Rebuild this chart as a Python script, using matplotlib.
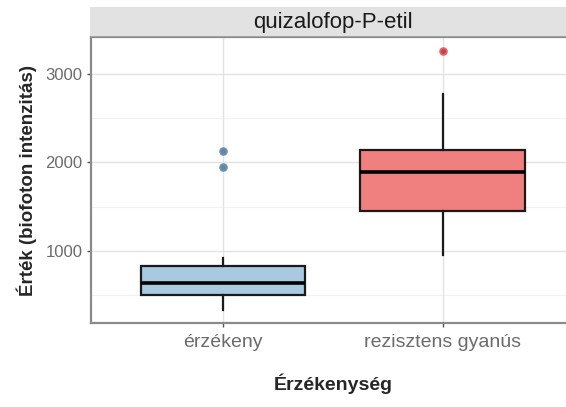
import matplotlib.pyplot as plt
from matplotlib.patches import Rectangle

plt.rcParams["font.family"] = ["Liberation Sans", "DejaVu Sans"]

# adatok
categories = ["érzékeny", "rezisztens gyanús"]
q1 = [500, 1445]
medians = [640, 1890]
q3 = [830, 2140]
whisker_low = [330, 955]
whisker_high = [920, 2775]
outliers = [[1945, 2130], [3265]]
fill_colors = ["#a9c9e0", "#f08080"]
outlier_edge = ["#6f93b0", "#d96a6e"]
outlier_face = ["#5f88a8", "#d2404c"]

y_ticks = [1000, 2000, 3000]
y_minor = [500, 1500, 2500]

W, H = 566, 407
fig = plt.figure(figsize=(W / 100, H / 100), dpi=100)

# panel
ax = fig.add_axes([91 / W, (H - 323) / H, (575 - 91) / W, (323 - 37) / H])
ax.set_xlim(0.4, 2.6)
ax.set_ylim(182, 3420)

for y in y_minor:
    ax.axhline(y, color="#f2f2f2", lw=0.8, zorder=0)
for y in y_ticks:
    ax.axhline(y, color="#e3e3e3", lw=1.0, zorder=0)
for i in range(len(categories)):
    ax.axvline(i + 1, color="#e3e3e3", lw=1.0, zorder=0)

stats = []
for i, cat in enumerate(categories):
    stats.append({
        "label": cat,
        "q1": q1[i],
        "med": medians[i],
        "q3": q3[i],
        "whislo": whisker_low[i],
        "whishi": whisker_high[i],
        "fliers": outliers[i],
    })

bp = ax.bxp(
    stats,
    positions=[1, 2],
    widths=0.75,
    patch_artist=True,
    showcaps=False,
    boxprops=dict(edgecolor="#1a1a1a", linewidth=1.6),
    medianprops=dict(color="black", linewidth=2.6),
    whiskerprops=dict(color="#1a1a1a", linewidth=1.6),
    zorder=2,
)
for i, box in enumerate(bp["boxes"]):
    box.set_facecolor(fill_colors[i])
for i, fl in enumerate(bp["fliers"]):
    fl.set_marker("o")
    fl.set_markersize(5)
    fl.set_markerfacecolor(outlier_face[i])
    fl.set_markeredgecolor(outlier_edge[i])
    fl.set_markeredgewidth(1.2)

ax.set_xticks([1, 2])
ax.set_xticklabels(categories, fontsize=14, color="#6b6b6b")
ax.set_yticks(y_ticks)
ax.set_yticklabels([str(v) for v in y_ticks], fontsize=12, color="#6b6b6b")
ax.tick_params(axis="both", length=3, width=1, color="#555555")
ax.tick_params(axis="x", pad=5)
ax.tick_params(axis="y", pad=3)
for side in ["left", "bottom", "top", "right"]:
    ax.spines[side].set_color("#8a8a8a")
    ax.spines[side].set_linewidth(1.6)

ax.set_xlabel("Érzékenység", fontsize=14, fontweight="bold", color="#262626", labelpad=16)
ax.set_ylabel("Érték (biofoton intenzitás)", fontsize=13.5, fontweight="bold", color="#262626", labelpad=6)

# fejléc csík
strip = fig.add_axes([90 / W, (H - 37) / H, (575 - 90) / W, 30 / H])
strip.add_patch(Rectangle((0, 0), 1, 1, color="#e2e2e2", transform=strip.transAxes))
strip.axhline(0, color="#9a9a9a", lw=2)
strip.set_xlim(0, 1)
strip.set_ylim(0, 1)
strip.axis("off")
strip.text(0.5, 0.47, "quizalofop-P-etil", ha="center", va="center", fontsize=16, color="#1a1a1a")

fig.savefig("out.png", dpi=100)
